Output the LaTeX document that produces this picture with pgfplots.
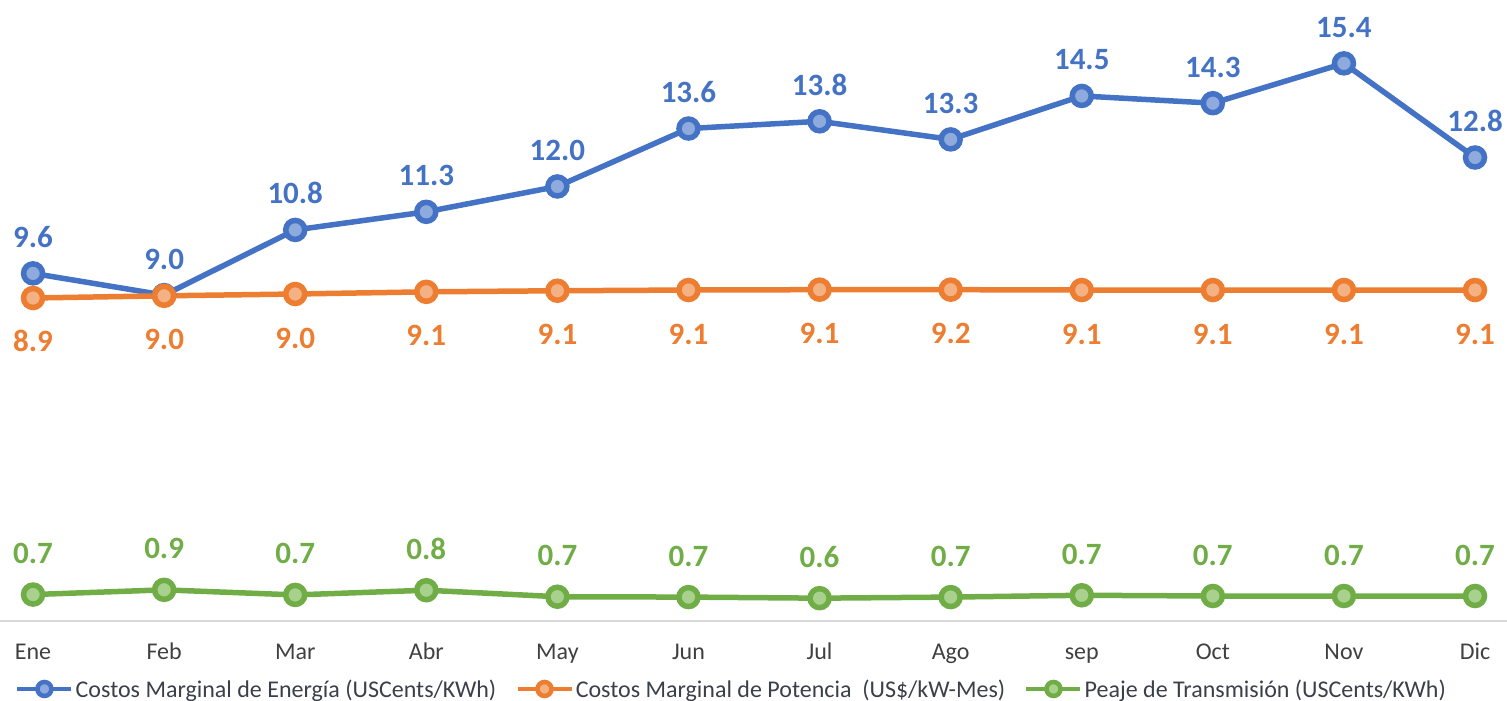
\documentclass[border=0pt]{standalone}
\usepackage{fontspec}
\setmainfont{Carlito}
\usepackage{pgfplots}
\pgfplotsset{compat=1.18}
\definecolor{cblue}{HTML}{4472C4}
\definecolor{cbluel}{HTML}{8FAADC}
\definecolor{corange}{HTML}{ED7D31}
\definecolor{corangel}{HTML}{F4B183}
\definecolor{cgreen}{HTML}{70AD47}
\definecolor{cgreenl}{HTML}{A9D18E}
\definecolor{ctick}{HTML}{404040}
\definecolor{clegend}{HTML}{3B3F4A}

\pgfplotstableread{
x y lab
0 9.6 9.6
1 9.0 9.0
2 10.8 10.8
3 11.3 11.3
4 12.0 12.0
5 13.6 13.6
6 13.8 13.8
7 13.3 13.3
8 14.5 14.5
9 14.3 14.3
10 15.4 15.4
11 12.8 12.8
}\energia
\pgfplotstableread{
x y lab
0 8.92 8.9
1 8.98 9.0
2 9.03 9.0
3 9.09 9.1
4 9.12 9.1
5 9.14 9.1
6 9.15 9.1
7 9.15 9.2
8 9.14 9.1
9 9.14 9.1
10 9.14 9.1
11 9.14 9.1
}\potencia
\pgfplotstableread{
x y lab
0 0.73 0.7
1 0.86 0.9
2 0.72 0.7
3 0.85 0.8
4 0.67 0.7
5 0.66 0.7
6 0.63 0.6
7 0.66 0.7
8 0.71 0.7
9 0.69 0.7
10 0.69 0.7
11 0.69 0.7
}\peaje

\begin{document}
\begin{tikzpicture}
\begin{axis}[
  name=ax,
  scale only axis,
  width=1507pt, height=621pt,
  xmin=-0.252, xmax=11.244,
  ymin=0, ymax=17.15,
  axis y line=none,
  axis x line*=bottom,
  x axis line style={draw=black!15, line width=2pt},
  xtick={0,...,11},
  xticklabels={Ene,Feb,Mar,Abr,May,Jun,Jul,Ago,sep,Oct,Nov,Dic},
  major tick length=0pt,
  xticklabel style={font=\fontsize{24}{28}\selectfont, text=ctick, anchor=base, yshift=-39pt, inner sep=0pt},
  clip=false,
  /pgf/number format/assume math mode=true,
  point meta=explicit,
  nodes near coords={\pgfmathprintnumber[fixed,zerofill,precision=1]{\pgfplotspointmeta}},
  every node near coord/.append style={font=\fontsize{31}{36}\selectfont\bfseries, inner sep=0pt, anchor=base},
  every axis plot/.append style={line width=5.5pt, mark=*, mark size=9.5pt},
  legend style={at={(0.00995,-0.1095)}, anchor=west, draw=none, fill=none,
    legend columns=3, inner sep=0pt, font=\fontsize{24}{28}\selectfont, text=clegend,
    /tikz/every even column/.append style={column sep=17pt}},
  legend cell align=left,
  legend image code/.code={\draw[line width=4.5pt, mark size=7pt, mark repeat=2, mark phase=2] plot coordinates {(0pt,0pt)(27pt,0pt)(54pt,0pt)};},
]
\addplot[color=cblue, mark options={fill=cbluel}, every node near coord/.append style={text=cblue, yshift=26pt}]
  table[x=x, y=y, meta=lab] {\energia};
\addlegendentry{Costos Marginal de Energía (USCents/KWh)}
\addplot[color=corange, mark options={fill=corangel}, every node near coord/.append style={text=corange, yshift=-54pt}]
  table[x=x, y=y, meta=lab] {\potencia};
\addlegendentry{Costos Marginal de Potencia\ \ (US\$/kW-Mes)}
\addplot[color=cgreen, mark options={fill=cgreenl}, every node near coord/.append style={text=cgreen, yshift=31pt}]
  table[x=x, y=y, meta=lab] {\peaje};
\addlegendentry{Peaje de Transmisión (USCents/KWh)}
\end{axis}
\pgfresetboundingbox
\useasboundingbox (ax.south west) ++(0,-80pt) rectangle (ax.north east);
\end{tikzpicture}
\end{document}
